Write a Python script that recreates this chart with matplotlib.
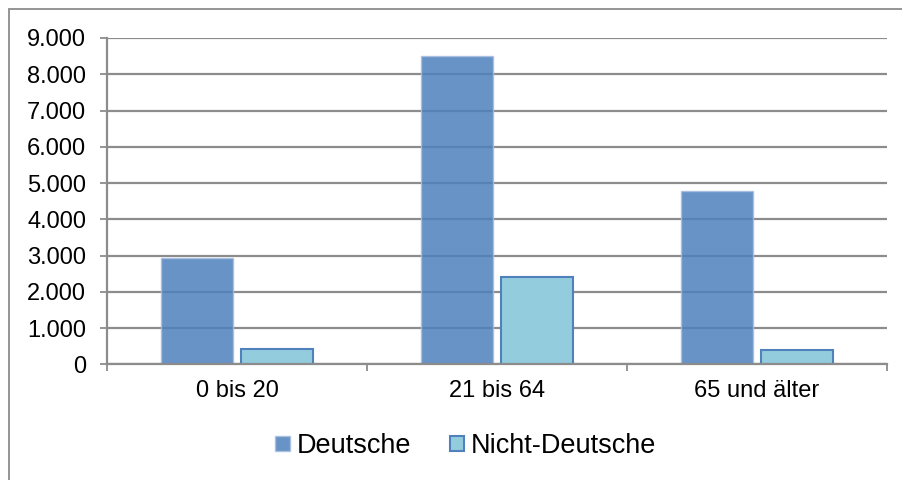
import matplotlib
matplotlib.use("Agg")
import matplotlib.pyplot as plt
import numpy as np
from matplotlib.patches import Rectangle
from matplotlib.ticker import FuncFormatter, FixedLocator

categories = ["0 bis 20", "21 bis 64", "65 und älter"]
deutsche = [2920, 8490, 4770]
nicht_deutsche = [420, 2400, 400]
series_names = ["Deutsche", "Nicht-Deutsche"]
yticks = [0, 1000, 2000, 3000, 4000, 5000, 6000, 7000, 8000, 9000]

plt.rcParams['font.family'] = ['Liberation Sans', 'DejaVu Sans']

W, H = 903, 480
fig = plt.figure(figsize=(W / 100, H / 100), dpi=100)

# outer chart border (left and top visible)
fig.patches.append(Rectangle((9 / W, -0.1), 2.0, 1 - 9 / H + 0.1,
                             transform=fig.transFigure, fill=False,
                             edgecolor='#8c8c8c', linewidth=1.3, zorder=0))

ax = fig.add_axes([107 / W, (H - 364.3) / H, (887 - 107) / W, (364.3 - 38) / H])

x = np.arange(len(categories))
bw = 0.277
off = 0.152
ax.bar(x - off, deutsche, width=bw, color='#4F81BD', alpha=0.86,
       edgecolor='#A7BFE0', linewidth=1.0, zorder=2, label=series_names[0])
ax.bar(x + off, nicht_deutsche, width=bw, color='#93CDDD',
       edgecolor='#4F81BD', linewidth=1.5, zorder=2, label=series_names[1])

ax.set_xlim(-0.5, len(categories) - 0.5)
ax.set_ylim(0, 9000)
ax.set_yticks(yticks)
ax.yaxis.set_major_formatter(FuncFormatter(lambda v, p: f"{int(v):,}".replace(",", ".")))
ax.grid(axis='y', color='#8c8c8c', linewidth=1.6, zorder=1)
ax.set_axisbelow(True)

ax.xaxis.set_major_locator(FixedLocator(np.arange(-0.5, len(categories), 1.0)))
ax.xaxis.set_major_formatter(FuncFormatter(lambda v, p: ""))
ax.xaxis.set_minor_locator(FixedLocator(x))
ax.set_xticklabels(categories, minor=True)
ax.tick_params(axis='x', which='major', length=5, width=1.3, color='#8c8c8c', direction='out')
ax.tick_params(axis='x', which='minor', length=0, pad=11.5, labelsize=17)
ax.tick_params(axis='y', length=5, width=1.3, color='#8c8c8c', direction='out', pad=10, labelsize=17)

for s in ['top', 'right']:
    ax.spines[s].set_visible(False)
for s in ['left', 'bottom']:
    ax.spines[s].set_color('#8c8c8c')
    ax.spines[s].set_linewidth(1.6)

leg = fig.legend(loc='center', bbox_to_anchor=(466 / W, (H - 446) / H), ncol=2,
                 frameon=False, fontsize=19.5, handlelength=0.52, handleheight=0.52,
                 handletextpad=0.26, columnspacing=1.44)

fig.savefig("out.png", dpi=100)
